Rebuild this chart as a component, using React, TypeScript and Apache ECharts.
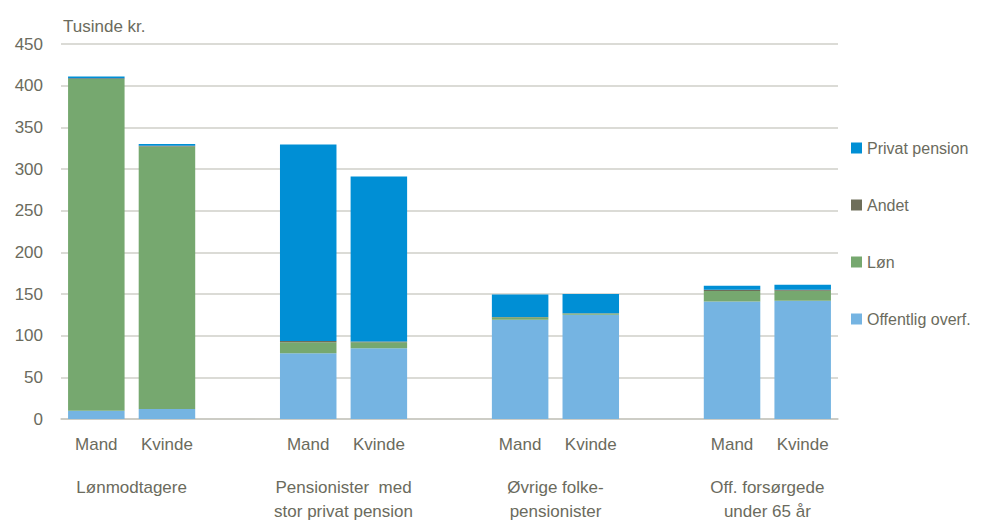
import React, { useEffect, useRef } from "react";
import * as echarts from "echarts";

const categories = ["Mand", "Kvinde", "", "Mand", "Kvinde", "", "Mand", "Kvinde", "", "Mand", "Kvinde"];
const groupLabels = ["Lønmodtagere", "Pensionister  med\nstor privat pension", "Øvrige folke-\npensionister", "Off. forsørgede\nunder 65 år"];
const offentlig = [10, 12, null, 79, 85, null, 119, 125, null, 141, 142];
const loen = [398, 315, null, 13, 7, null, 3, 1.5, null, 12.5, 12];
const andet = [1, 1, null, 1.5, 1, null, 0.5, 0.5, null, 1.5, 1];
const privat = [2, 2, null, 236, 198, null, 27, 23, null, 5, 6];
const yTicks = { min: 0, max: 450, interval: 50 };

const FONT = "'Liberation Sans', Arial, sans-serif";
const FS = 17;
const TXT = "#6b6b5d";

export default function App() {
  const ref = useRef<HTMLDivElement>(null);
  useEffect(() => {
    const chart = echarts.init(ref.current!, null, { renderer: "svg" });
    const mk = (name: string, data: any[], color: string) => ({
      name,
      type: "bar",
      stack: "s",
      data,
      barCategoryGap: "20%",
      itemStyle: { color },
      emphasis: { disabled: true },
    });
    chart.setOption({
      animation: false,
      textStyle: { fontFamily: FONT },
      title: {
        text: "Tusinde kr.",
        left: 58,
        top: 13,
        textStyle: { fontFamily: FONT, fontSize: FS, fontWeight: "normal", color: TXT },
      },
      grid: { left: 61, right: 144, top: 44, bottom: 103 },
      legend: {
        orient: "vertical",
        left: 851,
        top: 140,
        padding: 0,
        itemWidth: 11,
        itemHeight: 11,
        itemGap: 41,
        icon: "rect",
        data: ["Privat pension", "Andet", "Løn", "Offentlig overf."],
        textStyle: { fontFamily: FONT, fontSize: 16, lineHeight: 16, color: TXT, overflow: "none", width: 130 },
      },
      xAxis: {
        type: "category",
        data: categories,
        axisTick: { show: false },
        axisLine: { lineStyle: { color: "#c8c8c0", width: 1.5 } },
        axisLabel: { fontFamily: FONT, fontSize: FS, color: TXT, margin: 17, interval: 0 },
      },
      yAxis: {
        type: "value",
        ...yTicks,
        axisLine: { show: false },
        axisTick: { show: false },
        splitLine: { lineStyle: { color: "#cfcfc8", width: 1.5 } },
        axisLabel: { fontFamily: FONT, fontSize: FS, color: TXT, margin: 18 },
      },
      series: [
        mk("Offentlig overf.", offentlig, "#75b4e2"),
        mk("Løn", loen, "#76a86f"),
        mk("Andet", andet, "#6e6e5a"),
        mk("Privat pension", privat, "#008fd5"),
      ],
    });
    const graphics = groupLabels.map((t, i) => {
      const a = chart.convertToPixel({ xAxisIndex: 0 }, i * 3) as number;
      const b = chart.convertToPixel({ xAxisIndex: 0 }, i * 3 + 1) as number;
      return {
        type: "text",
        x: (a + b) / 2,
        y: 475,
        style: {
          text: t,
          fontFamily: FONT,
          fontSize: FS,
          fill: TXT,
          align: "center",
          verticalAlign: "top",
          lineHeight: 24,
        },
      };
    });
    chart.setOption({ graphic: graphics });
    return () => chart.dispose();
  }, []);
  return <div ref={ref} style={{ width: 982, height: 522, marginLeft: -8, marginTop: -8 }} />;
}
